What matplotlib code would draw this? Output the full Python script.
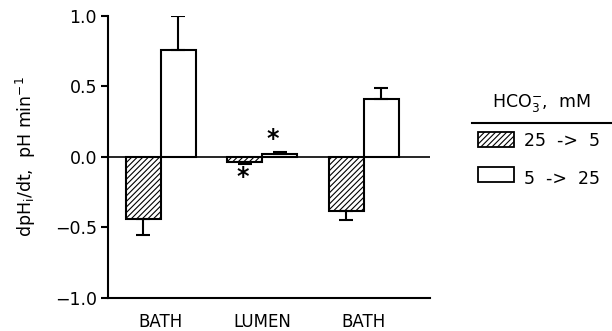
import matplotlib.pyplot as plt
from matplotlib.patches import Rectangle
import numpy as np

plt.rcParams['font.family'] = ['DejaVu Sans']
plt.rcParams['hatch.linewidth'] = 0.8

sites = ['BATH', 'LUMEN', 'BATH']
down = [-0.44, -0.035, -0.38]      # 25 -> 5
down_err = [0.11, 0.015, 0.07]
up = [0.76, 0.02, 0.41]            # 5 -> 25
up_err = [0.24, 0.015, 0.08]
legend_labels = ['25  ->  5', '5  ->  25']

fig = plt.figure(figsize=(6.12, 3.31), dpi=100)
ax = fig.add_axes([0.1765, 0.0997, 0.526, 0.852])

x = np.arange(len(sites))
w = 0.345

ax.bar(x - w/2, down, w, color='white', edgecolor='black', hatch='//////', linewidth=1.5, zorder=2)
ax.bar(x + w/2, up, w, color='white', edgecolor='black', linewidth=1.5, zorder=2)

# one-sided error bars pointing away from zero
ax.errorbar(x - w/2, down, yerr=[down_err, [0]*3], fmt='none', ecolor='black', elinewidth=1.5, capsize=5, capthick=1.5, zorder=3)
ax.errorbar(x + w/2, up, yerr=[[0]*3, up_err], fmt='none', ecolor='black', elinewidth=1.5, capsize=5, capthick=1.5, zorder=3)

ax.axhline(0, color='black', linewidth=1.2, zorder=1)

# significance marks on the lumen pair
ax.text(x[1] - 0.19, -0.145, '*', ha='center', va='center', fontsize=17, fontweight='bold')
ax.text(x[1] + 0.10, 0.125, '*', ha='center', va='center', fontsize=17, fontweight='bold')

ax.set_xlim(-0.522, 2.65)
ax.set_ylim(-1.0, 1.0)
ax.set_yticks([-1.0, -0.5, 0.0, 0.5, 1.0])
ax.set_yticklabels(['\u22121.0', '\u22120.5', '0.0', '0.5', '1.0'])
ax.set_xticks(x)
ax.set_xticklabels(sites)
ax.tick_params(axis='x', length=0, pad=11, labelsize=12)
ax.tick_params(axis='y', direction='out', length=5, width=1.5, labelsize=12.5, pad=3)
for side in ['top', 'right']:
    ax.spines[side].set_visible(False)
for side in ['left', 'bottom']:
    ax.spines[side].set_linewidth(1.5)

ax.set_ylabel(r'dpH$_\mathregular{i}$/dt,  pH min$^\mathregular{-1}$', fontsize=12.5, labelpad=12)

# legend drawn by hand in figure coords
fig.text(0.885, 0.69, r'HCO$_\mathregular{3}^\mathregular{-}$,  mM', ha='center', va='center', fontsize=12.5)
fig.add_artist(plt.Line2D([0.772, 1.0], [0.628, 0.628], color='black', linewidth=1.5))
fig.add_artist(Rectangle((0.781, 0.556), 0.059, 0.045, facecolor='white', edgecolor='black', hatch='//////', linewidth=1.3))
fig.add_artist(Rectangle((0.781, 0.45), 0.059, 0.045, facecolor='white', edgecolor='black', linewidth=1.3))
fig.text(0.857, 0.575, legend_labels[0], ha='left', va='center', fontsize=12.5)
fig.text(0.857, 0.459, legend_labels[1], ha='left', va='center', fontsize=12.5)

fig.savefig('out.png', dpi=100)
